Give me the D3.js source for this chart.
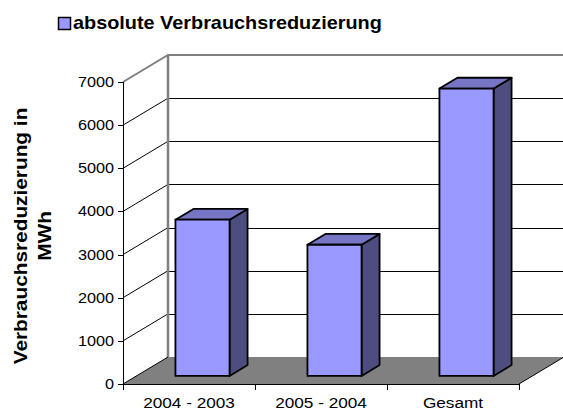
<!DOCTYPE html>
<html lang="de">
  <head>
    <meta charset="UTF-8" />
    <title>Verbrauchsreduzierung</title>
    <style>
      body { margin: 0; background: #fff; }
      text { font-family: Arial, "Liberation Sans", sans-serif; }
    </style>
  </head>
  <body>
    <script src="https://d3js.org/d3.v7.min.js"></script>
    <script>
      const categories = ["2004 - 2003", "2005 - 2004", "Gesamt"];
      const values = [3620, 3040, 6660];
      const yTicks = [0, 1000, 2000, 3000, 4000, 5000, 6000, 7000];
      const seriesName = "absolute Verbrauchsreduzierung";
      const yTitle = ["Verbrauchsreduzierung in", "MWh"];

      function makeChart() {
        const width = 563;
        const height = 410;
        // 3d depth offset of the back wall
        const depth = { dx: 45, dy: -27 };
        const barDepth = [0.3, 0.7];

        const svg = d3
          .select("body")
          .append("svg")
          .attr("width", width)
          .attr("height", height);

        const xScale = d3
          .scaleBand()
          .domain(categories)
          .range([123, 519]);

        const yScale = d3.scaleLinear().domain([0, 7000]).range([384, 82]);

        const proj = (x, v, f) => [x + f * depth.dx, yScale(v) + f * depth.dy];
        const pts = (arr) => arr.map((p) => p.join(",")).join(" ");

        const x0 = xScale.range()[0];
        const x1 = xScale.range()[1];

        // floor
        svg
          .append("polygon")
          .attr("points", pts([proj(x0, 0, 0), proj(x1, 0, 0), proj(x1, 0, 1), proj(x0, 0, 1)]))
          .attr("fill", "#808080");

        // back wall gridlines
        svg
          .append("g")
          .selectAll("line")
          .data(yTicks.slice(1, -1))
          .join("line")
          .attr("x1", proj(x0, 0, 1)[0])
          .attr("x2", width)
          .attr("y1", (d) => Math.round(proj(x0, d, 1)[1]) + 0.5)
          .attr("y2", (d) => Math.round(proj(x0, d, 1)[1]) + 0.5)
          .attr("stroke", "#000")
          .attr("stroke-width", 1);

        // side wall gridlines
        svg
          .append("g")
          .selectAll("line")
          .data(yTicks.slice(1, -1))
          .join("line")
          .attr("x1", x0)
          .attr("y1", (d) => yScale(d))
          .attr("x2", (d) => proj(x0, d, 1)[0])
          .attr("y2", (d) => proj(x0, d, 1)[1])
          .attr("stroke", "#000")
          .attr("stroke-width", 1);

        // wall edges (gray)
        const top = yTicks[yTicks.length - 1];
        svg
          .append("path")
          .attr(
            "d",
            d3.line()([proj(x0, top, 0), proj(x0, top, 1), [width, proj(x0, top, 1)[1]]])
          )
          .attr("fill", "none")
          .attr("stroke", "#808080")
          .attr("stroke-width", 2);
        svg
          .append("line")
          .attr("x1", proj(x0, 0, 1)[0])
          .attr("x2", proj(x0, 0, 1)[0])
          .attr("y1", proj(x0, top, 1)[1])
          .attr("y2", proj(x0, 0, 1)[1])
          .attr("stroke", "#808080")
          .attr("stroke-width", 2.5);

        // floor edges
        svg
          .append("path")
          .attr("d", d3.line()([proj(x0, 0, 1), proj(x0, 0, 0)]))
          .attr("stroke", "#000")
          .attr("stroke-width", 1);
        svg
          .append("path")
          .attr("d", d3.line()([proj(x1, 0, 0), proj(x1, 0, 1)]))
          .attr("stroke", "#000")
          .attr("stroke-width", 1);

        // bars
        const bw = xScale.bandwidth();
        const bars = svg
          .append("g")
          .selectAll("g")
          .data(categories.map((c, i) => ({ name: c, value: values[i] })))
          .join("g")
          .attr("stroke", "#000")
          .attr("stroke-width", 1.8)
          .attr("stroke-linejoin", "round");

        const left = (d) => xScale(d.name) + bw * 0.295;
        const right = (d) => xScale(d.name) + bw * 0.705;
        const [f0, f1] = barDepth;

        bars
          .append("polygon")
          .attr("fill", "#4d4d80")
          .attr("points", (d) =>
            pts([proj(right(d), d.value, f0), proj(right(d), d.value, f1), proj(right(d), 0, f1), proj(right(d), 0, f0)])
          );
        bars
          .append("polygon")
          .attr("fill", "#7676c4")
          .attr("points", (d) =>
            pts([proj(left(d), d.value, f0), proj(right(d), d.value, f0), proj(right(d), d.value, f1), proj(left(d), d.value, f1)])
          );
        bars
          .append("polygon")
          .attr("fill", "#9999ff")
          .attr("points", (d) =>
            pts([proj(left(d), d.value, f0), proj(right(d), d.value, f0), proj(right(d), 0, f0), proj(left(d), 0, f0)])
          );

        // y axis
        const yAxis = svg.append("g");
        yAxis
          .append("line")
          .attr("x1", x0 + 0.5)
          .attr("x2", x0 + 0.5)
          .attr("y1", yScale(top))
          .attr("y2", yScale(0))
          .attr("stroke", "#000");
        const yt = yAxis.selectAll("g").data(yTicks).join("g");
        yt.append("line")
          .attr("x1", x0 - 5)
          .attr("x2", x0)
          .attr("y1", (d) => Math.round(yScale(d)) + 0.5)
          .attr("y2", (d) => Math.round(yScale(d)) + 0.5)
          .attr("stroke", "#000");
        yt.append("text")
          .attr("transform", (d) => `translate(${x0 - 9},${yScale(d) + 5}) scale(1.16,1)`)
          .attr("text-anchor", "end")
          .attr("font-size", 14)
          .text((d) => d);

        // x axis
        const xAxis = svg.append("g");
        xAxis
          .append("line")
          .attr("x1", x0)
          .attr("x2", x1)
          .attr("y1", yScale(0) + 0.5)
          .attr("y2", yScale(0) + 0.5)
          .attr("stroke", "#000");
        xAxis
          .selectAll("line.tick")
          .data(categories.map((c) => xScale(c)).concat([x1]))
          .join("line")
          .attr("class", "tick")
          .attr("x1", (d) => Math.round(d) + 0.5)
          .attr("x2", (d) => Math.round(d) + 0.5)
          .attr("y1", yScale(0))
          .attr("y2", yScale(0) + 6)
          .attr("stroke", "#000");
        xAxis
          .selectAll("text")
          .data(categories)
          .join("text")
          .attr("transform", (d) => `translate(${xScale(d) + bw / 2},${yScale(0) + 24}) scale(1.11,1)`)
          .attr("text-anchor", "middle")
          .attr("font-size", 15.5)
          .text((d) => d);

        // y title
        svg
          .append("text")
          .attr("transform", "translate(0,236) rotate(-90) scale(1.19,1)")
          .attr("text-anchor", "middle")
          .attr("font-size", 17.5)
          .attr("font-weight", "bold")
          .selectAll("tspan")
          .data(yTitle)
          .join("tspan")
          .attr("x", 0)
          .attr("y", (d, i) => 27 + i * 24)
          .text((d) => d);

        // legend
        const legend = svg.append("g");
        legend
          .append("rect")
          .attr("x", 58.5)
          .attr("y", 17.5)
          .attr("width", 12)
          .attr("height", 12)
          .attr("fill", "#9999ff")
          .attr("stroke", "#000")
          .attr("stroke-width", 1.5);
        legend
          .append("text")
          .attr("transform", "translate(73,29) scale(1.135,1)")
          .attr("font-size", 17.5)
          .attr("font-weight", "bold")
          .text(seriesName);
      }
      makeChart();
    </script>
  </body>
</html>
